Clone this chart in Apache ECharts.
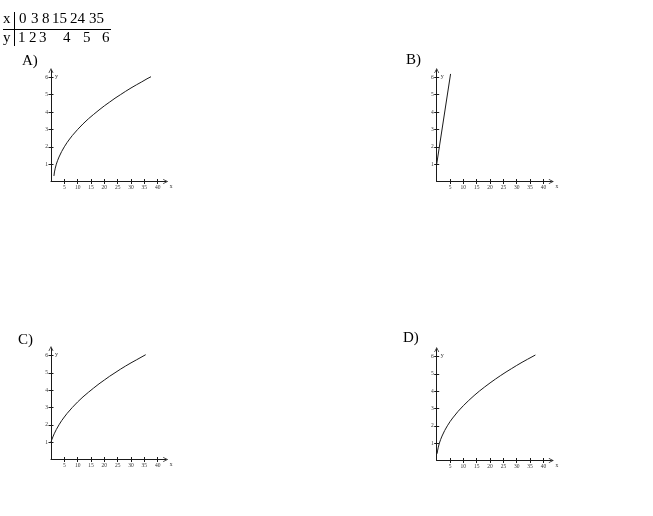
<!DOCTYPE html>
<html>
<head>
<meta charset="utf-8">
<script src="https://cdn.jsdelivr.net/npm/echarts@6/dist/echarts.min.js"></script>
<style>
  html, body { margin: 0; padding: 0; background: #fff; }
  #chart { width: 653px; height: 516px; }
</style>
</head>
<body>
<div id="chart"></div>
<script>
// table at the top
var tableX = [0, 3, 8, 15, 24, 35];
var tableY = [1, 2, 3, 4, 5, 6];

// axis ticks shared by all four graphs
var xTicks = [5, 10, 15, 20, 25, 30, 35, 40];
var yTicks = [1, 2, 3, 4, 5, 6];

// A) curve
var aX = [1.1, 1.3, 1.6, 2, 2.5, 3, 4, 5, 6, 7, 8, 10, 12, 14, 16, 18, 20, 22, 24, 26, 28, 30, 32, 34, 36, 37.5];
var aY = [0.32, 0.55, 0.77, 1, 1.22, 1.41, 1.73, 2, 2.24, 2.45, 2.65, 3, 3.32, 3.61, 3.87, 4.12, 4.36, 4.58, 4.8, 5, 5.2, 5.39, 5.57, 5.74, 5.92, 6.04];

// B) straight line
var bX = [0, 5.2];
var bY = [1, 6.2];

// C) curve
var cX = [0, 0.3, 0.7, 1.2, 2, 3, 4, 5, 6, 8, 10, 12, 14, 16, 18, 20, 22, 24, 26, 28, 30, 32, 35.5];
var cY = [1, 1.14, 1.3, 1.48, 1.73, 2, 2.24, 2.45, 2.65, 3, 3.32, 3.61, 3.87, 4.12, 4.36, 4.58, 4.8, 5, 5.2, 5.39, 5.57, 5.74, 6.04];

// D) curve
var dX = [0.15, 0.3, 0.6, 1, 1.5, 2, 3, 4, 5, 6, 8, 10, 12, 14, 16, 18, 20, 22, 24, 26, 28, 30, 32, 34, 37];
var dY = [0.39, 0.55, 0.77, 1, 1.22, 1.41, 1.73, 2, 2.24, 2.45, 2.83, 3.16, 3.46, 3.74, 4, 4.24, 4.47, 4.69, 4.9, 5.1, 5.29, 5.48, 5.66, 5.83, 6.08];

var labels = ['A)', 'B)', 'C)', 'D)'];

function pairs(xs, ys) {
    return xs.map(function (x, i) { return [x, ys[i]]; });
}

var XMAX = 43, YMAX = 6.4;
var PX_X = 2.667, PX_Y = 17.35;
var serif = '"Liberation Serif", "DejaVu Serif", serif';
var ink = '#1a1a1a';
var arrow = 'path://M0,10 L5,0 L10,10 L8.6,10 L5,3 L1.4,10 Z';

// panel origins (pixel of the axis crossing) and label positions
var panels = [
    { ox: 51, oy: 181.5, data: pairs(aX, aY), lx: 22, ly: 61 },
    { ox: 436.7, oy: 181.5, data: pairs(bX, bY), lx: 406, ly: 60 },
    { ox: 51, oy: 459.5, data: pairs(cX, cY), lx: 18, ly: 340 },
    { ox: 436.7, oy: 460.5, data: pairs(dX, dY), lx: 403, ly: 338 }
];

var grid = [], xAxis = [], yAxis = [], series = [], graphic = [];

panels.forEach(function (p, i) {
    var w = XMAX * PX_X, h = YMAX * PX_Y;
    grid.push({ left: p.ox, top: p.oy - h, width: w, height: h });

    // main axes with line, labels and outer ticks
    xAxis.push({
        type: 'value', gridIndex: i, min: 0, max: XMAX, position: 'bottom',
        splitLine: { show: false },
        axisLine: { onZero: false, symbol: ['none', arrow], symbolSize: [5, 5], lineStyle: { color: ink, width: 1 } },
        axisTick: { customValues: xTicks, length: 2.5, lineStyle: { color: ink } },
        axisLabel: { customValues: xTicks, fontSize: 5.5, fontFamily: serif, color: '#333', margin: 3.5 },
        name: 'x', nameLocation: 'end', nameGap: 4,
        nameTextStyle: { fontSize: 5.5, fontFamily: serif, color: '#333', align: 'left', verticalAlign: 'top', padding: [2, 0, 0, 0] }
    });
    yAxis.push({
        type: 'value', gridIndex: i, min: 0, max: YMAX, position: 'left',
        splitLine: { show: false },
        axisLine: { onZero: false, symbol: ['none', arrow], symbolSize: [5, 5], lineStyle: { color: ink, width: 1 } },
        axisTick: { customValues: yTicks, length: 2.5, lineStyle: { color: ink } },
        axisLabel: { customValues: yTicks, fontSize: 5.5, fontFamily: serif, color: '#333', margin: 3 },
        name: 'y', nameLocation: 'end', nameGap: -6,
        nameTextStyle: { fontSize: 6, fontFamily: serif, color: '#333', align: 'left', verticalAlign: 'middle', padding: [0, 0, 0, 4] }
    });
    // twin axes that only give the inner half of each tick
    xAxis.push({
        type: 'value', gridIndex: i, min: 0, max: XMAX, position: 'bottom',
        splitLine: { show: false },
        axisLine: { show: false, onZero: false },
        axisTick: { customValues: xTicks, inside: true, length: 2.5, lineStyle: { color: ink } },
        axisLabel: { show: false }
    });
    yAxis.push({
        type: 'value', gridIndex: i, min: 0, max: YMAX, position: 'left',
        splitLine: { show: false },
        axisLine: { show: false, onZero: false },
        axisTick: { customValues: yTicks, inside: true, length: 2.5, lineStyle: { color: ink } },
        axisLabel: { show: false }
    });

    series.push({
        type: 'line', xAxisIndex: 2 * i, yAxisIndex: 2 * i,
        data: p.data, smooth: false,
        showSymbol: false, silent: true,
        lineStyle: { color: ink, width: 1 }
    });

    graphic.push({
        type: 'text', x: p.lx, y: p.ly,
        style: { text: labels[i], font: '15px ' + serif, fill: '#000', align: 'left', verticalAlign: 'middle' }
    });
});

// the value table
var row1X = [19, 31, 42, 52, 70, 89];
var row2X = [18, 29, 39, 63, 83, 102];
var tFont = '15px ' + serif;
graphic.push({ type: 'text', x: 3, y: 19, style: { text: 'x', font: tFont, fill: '#000', verticalAlign: 'middle' } });
graphic.push({ type: 'text', x: 3, y: 38.5, style: { text: 'y', font: tFont, fill: '#000', verticalAlign: 'middle' } });
tableX.forEach(function (v, i) {
    graphic.push({ type: 'text', x: row1X[i], y: 19, style: { text: String(v), font: tFont, fill: '#000', verticalAlign: 'middle' } });
});
tableY.forEach(function (v, i) {
    graphic.push({ type: 'text', x: row2X[i], y: 38.5, style: { text: String(v), font: tFont, fill: '#000', verticalAlign: 'middle' } });
});
graphic.push({ type: 'line', shape: { x1: 3, y1: 29.5, x2: 111, y2: 29.5 }, style: { stroke: '#000', lineWidth: 1 } });
graphic.push({ type: 'line', shape: { x1: 14.5, y1: 12, x2: 14.5, y2: 46 }, style: { stroke: '#000', lineWidth: 1 } });

var chart = echarts.init(document.getElementById('chart'), null, { renderer: 'canvas' });
chart.setOption({
    animation: false,
    backgroundColor: '#fff',
    grid: grid,
    xAxis: xAxis,
    yAxis: yAxis,
    series: series,
    graphic: graphic
});
</script>
</body>
</html>
